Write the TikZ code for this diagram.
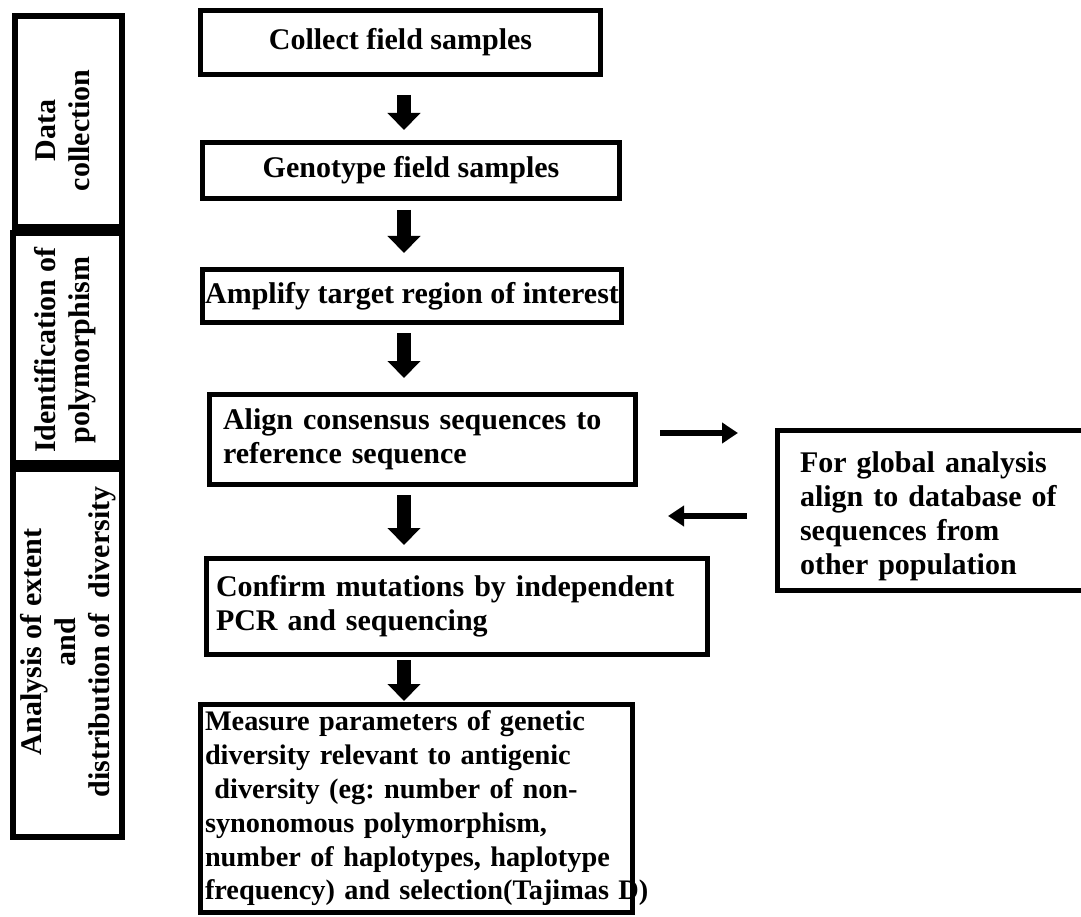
\documentclass[tikz,border=0pt]{standalone}
\usepackage{fontspec}
\setmainfont{Liberation Serif}
\usetikzlibrary{arrows.meta,calc}
\begin{document}
\frenchspacing
\begin{tikzpicture}[x=1pt,y=-1pt,
  box/.style={draw=black, line width=5pt, rectangle, inner sep=0pt, font=\fontsize{30}{34}\selectfont\bfseries},
  boxtext/.style={inner sep=0pt, align=left, font=\fontsize{30}{34}\selectfont\bfseries},
  sidebox/.style={draw=black, line width=6pt, rectangle, inner sep=0pt},
  sidetext/.style={rotate=90, align=center, inner sep=0pt, font=\fontsize{30}{34}\selectfont\bfseries},
  darr/.style={line width=14pt, -{Triangle[width=32pt,length=17pt]}},
  harr/.style={line width=5.5pt, -{Triangle[width=20pt,length=16pt]}}]
\fill[white] (0,0) rectangle (1081,917);
\useasboundingbox (0,0) rectangle (1081,917);

% main flow
\node[box, minimum width=400, minimum height=64] (b1) at (400.5,42.5) {Collect field samples};
\node[box, minimum width=417, minimum height=56] (b2) at (411,170.5) {Genotype field samples};
\node[box, minimum width=419, minimum height=53] (b3) at (412,296) {Amplify target region of interest};
\node[box, minimum width=426, minimum height=90, text width=399, align=left] (b4) at (422.5,439.5)
  {Align consensus sequences to\\reference sequence};
\node[box, minimum width=501, minimum height=96, text width=482, align=left] (b5) at (457,606.5)
  {Confirm mutations by independent\\PCR and sequencing};
\node[box, minimum width=432, minimum height=208, text width=423, align=left,
  font=\fontsize{28.3}{33.8}\selectfont\bfseries] (b6) at (416.5,808.5)
  {Measure parameters of genetic\\diversity relevant to antigenic\\\ diversity (eg: number of non-\\synonomous polymorphism,\\number of haplotypes, haplotype\\\makebox[\linewidth][l]{frequency) and selection(Tajimas D)}};

% side box
\node[box, minimum width=310, minimum height=160] (rb) at (932.5,510.5) {};
\node[boxtext, text width=265, anchor=center] (rbt) at ($(rb.center)+(0,6)$)
  {For global analysis\\align to database of\\sequences from\\other population};

% left column
\node[sidebox, rotate=90, minimum width=211, minimum height=107] (lc1) at (68.5,121.5) {};
\node[sidetext] (lt1) at ($(lc1.center)+(-6,9)$) {Data\\collection};
\node[sidebox, rotate=90, minimum width=230, minimum height=109] (lc2) at (67.5,348) {};
\node[sidetext] (lt2) at ($(lc2.center)+(-2,2)$) {Identification of\\polymorphism};
\begin{scope}
  \clip (13,469) rectangle (122,837);
  \node[sidetext] (lt3) at (68,642) {Analysis of extent\\and\\distribution of\ \ diversity};
\end{scope}
\node[sidebox, rotate=90, minimum width=368, minimum height=109] (lc3) at (67.5,653) {};

% arrows
\coordinate (ax) at (404,0);
\draw[darr, shorten <=18pt, shorten >=10pt] (b1.south -| ax) -- (b2.north -| ax);
\draw[darr, shorten <=9pt, shorten >=14pt] (b2.south -| ax) -- (b3.north -| ax);
\draw[darr, shorten <=8pt, shorten >=14pt] (b3.south -| ax) -- (b4.north -| ax);
\draw[darr, shorten <=8pt, shorten >=11pt] (b4.south -| ax) -- (b5.north -| ax);
\draw[darr, shorten <=3pt, shorten >=1pt] (b5.south -| ax) -- (b6.north -| ax);

\coordinate (r1) at (0,433);
\coordinate (r2) at (0,516);
\draw[harr, shorten <=22pt, shorten >=37pt] (b4.east |- r1) -- (rb.west |- r1);
\draw[harr, shorten <=28pt, shorten >=30pt] (rb.west |- r2) -- (b4.east |- r2);
\end{tikzpicture}
\end{document}
